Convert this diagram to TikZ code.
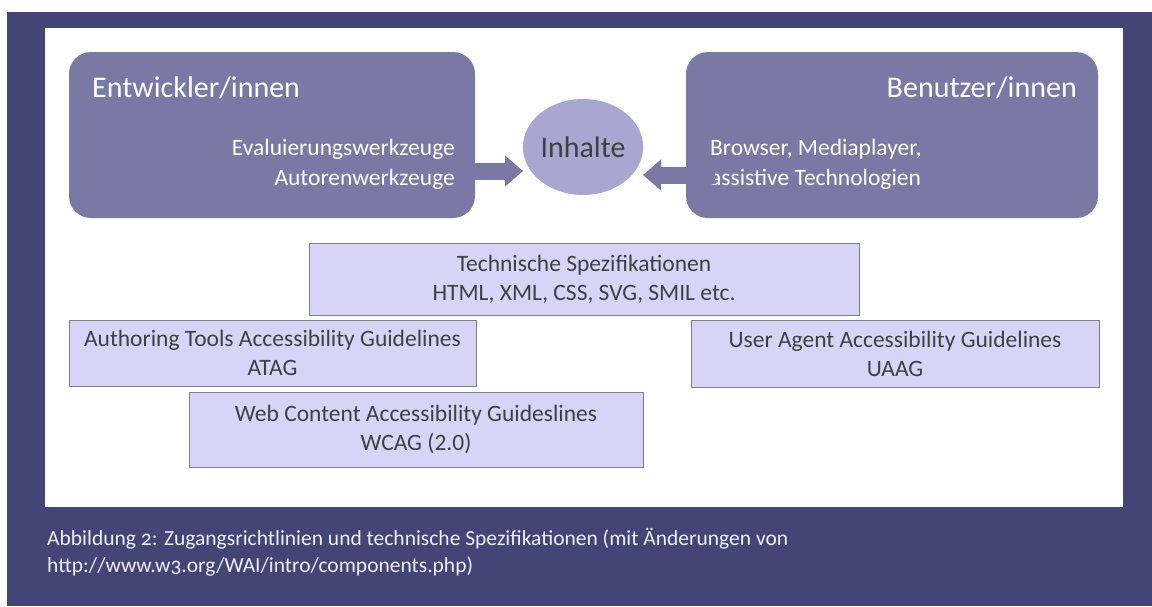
\documentclass[tikz,border=0pt]{standalone}
\usepackage{fontspec}
\setmainfont{Carlito}
\newfontfamily\captionfont{Carlito}[Numbers=OldStyle]
\usetikzlibrary{positioning}
\usetikzlibrary{shapes.geometric}
\usetikzlibrary{arrows.meta}

\definecolor{framecol}{HTML}{434577}
\definecolor{actorcol}{HTML}{7A79A6}
\definecolor{contentcol}{HTML}{A7A7D2}
\definecolor{guidecol}{HTML}{D6D4F7}
\definecolor{guidedraw}{HTML}{808080}
\definecolor{guidetext}{HTML}{404040}
\definecolor{captiontext}{HTML}{EEEEF4}

\begin{document}
\begin{tikzpicture}[
            x = 1pt, y = -1pt, % one unit = one pixel of the figure
            > = {Triangle[width=30pt,length=18pt]}, % block arrow head
            inner sep = 0pt
            ]

        \tikzstyle{actor}=[
            fill = actorcol,
            rounded corners = 22pt,
            minimum height = 166pt
        ]
        \tikzstyle{guide}=[
            draw = guidedraw,
            fill = guidecol,
            text = guidetext,
            line width = 1pt,
            align = center,
            font = \fontsize{23.5}{29}\selectfont
        ]
        \tikzstyle{flow}=[
            ->,
            draw = actorcol,
            line width = 17pt
        ]

        \useasboundingbox (0,0) rectangle (1152,606);
        \fill[white] (0,0) rectangle (1152,606);
        \fill[framecol] (7,12) rectangle (1152,606);
        \fill[white] (45,28) rectangle (1123,507);

	% who works with the content
	\node[actor, minimum width = 406pt] (dev) at (272,135) {};
	\node[actor, minimum width = 412pt] (usr) at (892,135) {};

        \node[anchor = base west, text = white, font = \fontsize{30}{30}\selectfont]
             (devtitle) at (92,97) {Entwickler/innen};
        \node[anchor = base east, text = white, font = \fontsize{30}{30}\selectfont]
             (usrtitle) at (1077,97) {Benutzer/innen};

        % base = last line
        \node[anchor = base east, text = white, align = right, font = \fontsize{23.5}{30}\selectfont]
             (devtools) at (455,185) {Evaluierungswerkzeuge\\Autorenwerkzeuge};
        \node[anchor = base west, text = white, align = left, font = \fontsize{23.5}{30}\selectfont]
             (usrtools) at (710,185) {Browser, Mediaplayer,\\assistive Technologien};

        % content in the middle
        \coordinate (arrL) at (523,171);
        \coordinate (arrR) at (715,175);
        \draw[flow] (dev.east |- arrL) -- (arrL);
        \draw[flow] (arrR) -- (643,175);

        \node[ellipse, fill = contentcol, minimum width = 120pt, minimum height = 96pt,
              text = guidetext, font = \fontsize{30}{30}\selectfont]
             (content) at (583,147) {Inhalte};

        % guidelines and specifications
        \node[guide, minimum width = 550pt, minimum height = 72pt] (spec) at (584,279)
             {Technische Spezifikationen\\HTML, XML, CSS, SVG, SMIL etc.};
        \node[guide, minimum width = 407pt, minimum height = 66pt] (atag) at (272.5,353)
             {Authoring Tools Accessibility Guidelines\\ATAG};
        \node[guide, minimum width = 408pt, minimum height = 67pt] (uaag) at (895,353.5)
             {User Agent Accessibility Guidelines\\UAAG};
        \node[guide, minimum width = 454pt, minimum height = 75pt] (wcag) at (416,429.5)
             {Web Content Accessibility Guideslines\\WCAG (2.0)};

        % caption
        \node[anchor = base west, align = left, text = captiontext,
              font = \captionfont\fontsize{21.5}{27}\selectfont] (caption) at (47,572)
             {Abbildung 2: Zugangsrichtlinien und technische Spezifikationen (mit Änderungen von\\
              http://www.w3.org/WAI/intro/components.php)};

\end{tikzpicture}
\end{document}
